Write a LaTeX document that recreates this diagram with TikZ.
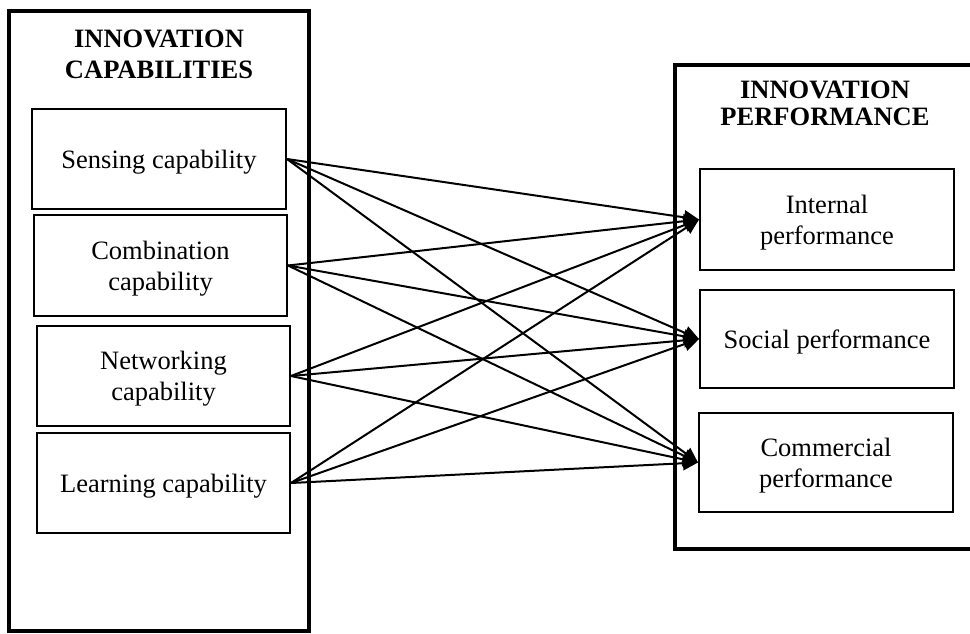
\documentclass[tikz,border=0pt]{standalone}
\usepackage{fontspec}
\setmainfont{Liberation Serif}
\usetikzlibrary{arrows.meta}

\tikzset{
  frame/.style={line width=4.5pt, line join=miter},
  itembox/.style={draw, line width=2pt, minimum width=#1, inner sep=0pt, align=center,
                  text depth=0pt, font=\fontsize{26.5}{31}\selectfont},
  itembox/.default=254pt,
  heading/.style={inner sep=0pt, align=center, font=\fontsize{26.5}{31}\selectfont\bfseries},
  link/.style={line width=2pt, -{Triangle[length=15pt, width=14pt]}, shorten >=0pt}
}

\begin{document}
\begin{tikzpicture}[x=1pt, y=-1pt]
  \useasboundingbox (0,0) rectangle (970,633);

  % left group frame
  \draw[frame] (9,11) rectangle (309,631);
  \node[heading] (capT) at (159,54) {INNOVATION\\CAPABILITIES};

  % right group frame (its right side runs past the page edge)
  \draw[frame] (980,65) -- (675,65) -- (675,549) -- (980,549);
  \node[heading] (perfT) at (825,103) {INNOVATION\\[-4pt]PERFORMANCE};

  % capabilities
  \node[itembox=254pt, minimum height=100pt] (sens) at (159,159)   {Sensing capability};
  \node[itembox=253pt, minimum height=101pt] (comb) at (160.5,265.5) {Combination\\capability};
  \node[itembox=253pt, minimum height=100pt] (netw) at (163.5,376) {Networking\\capability};
  \node[itembox=253pt, minimum height=100pt] (lear) at (163.5,483) {Learning capability};

  % performance dimensions
  \node[itembox=254pt, minimum height=101pt] (intp) at (827,219.5) {Internal\\performance};
  \node[itembox=254pt, minimum height=98pt]  (socp) at (827,339)   {Social performance};
  \node[itembox=254pt, minimum height=99pt]  (comp) at (826,462.5) {Commercial\\performance};

  % every capability feeds every performance dimension
  \foreach \s in {sens,comb,netw,lear}
    \foreach \t in {intp,socp,comp}
      \draw[link] (\s.east) -- (\t.west);
\end{tikzpicture}
\end{document}
